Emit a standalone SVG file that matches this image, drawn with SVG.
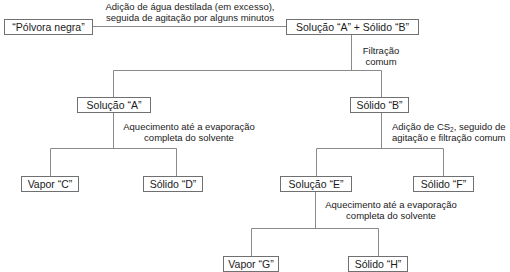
<svg xmlns="http://www.w3.org/2000/svg" width="510" height="272" viewBox="0 0 510 272">
<style>
.box{fill:#fff;stroke:#707070;stroke-width:1}
.bt{font-family:"Liberation Sans",Arial,sans-serif;font-size:10.5px;fill:#1a1a1a;text-anchor:middle}
.lt{font-family:"Liberation Sans",Arial,sans-serif;font-size:9.5px;fill:#1a1a1a;text-anchor:middle}
.ln{fill:none;stroke:#8a8a8a;stroke-width:1}
</style>
<rect width="510" height="272" fill="#fff"/>
<g id="connectors">
<path class="ln" d="M93,26.5H286"/>
<path class="ln" d="M351.5,34V70.5M113.5,70.5H381.5M113.5,70.5V97M381.5,70.5V97"/>
<path class="ln" d="M113.5,112V148.5M50.5,148.5H176.5M50.5,148.5V176M176.5,148.5V176"/>
<path class="ln" d="M381.5,112V148.5M316.5,148.5H443.5M316.5,148.5V176M443.5,148.5V176"/>
<path class="ln" d="M315.5,191V228.5M251.5,228.5H378.5M251.5,228.5V256M378.5,228.5V256"/>
</g>
<g id="labels">
<text class="lt" x="190" y="10">Adição de água destilada (em excesso),</text>
<text class="lt" x="190" y="20.5">seguida de agitação por alguns minutos</text>
<text class="lt" x="381" y="54">Filtração</text>
<text class="lt" x="381" y="64.5">comum</text>
<text class="lt" x="189" y="130">Aquecimento até a evaporação</text>
<text class="lt" x="189" y="140.5">completa do solvente</text>
<text class="lt" x="392" y="130" style="text-anchor:start">Adição de CS<tspan font-size="6.5" dy="2">2</tspan><tspan dy="-2">, seguido de</tspan></text>
<text class="lt" x="392" y="140.5" style="text-anchor:start">agitação e filtração comum</text>
<text class="lt" x="391" y="208">Aquecimento até a evaporação</text>
<text class="lt" x="391" y="218.5">completa do solvente</text>
</g>
<g id="polvora"><rect class="box" x="4.5" y="19.5" width="88" height="15"/><text class="bt" x="48.5" y="30.8">“Pólvora negra”</text></g>
<g id="solAsolB"><rect class="box" x="286.5" y="19.5" width="132" height="15"/><text class="bt" x="352.5" y="30.8">Solução “A” + Sólido “B”</text></g>
<g id="solucaoA"><rect class="box" x="77.5" y="97.5" width="73" height="15"/><text class="bt" x="114" y="108.8">Solução “A”</text></g>
<g id="solidoB"><rect class="box" x="350.5" y="97.5" width="58" height="15"/><text class="bt" x="379.5" y="108.8">Sólido “B”</text></g>
<g id="vaporC"><rect class="box" x="21.5" y="176.5" width="57" height="15"/><text class="bt" x="50" y="187.8">Vapor “C”</text></g>
<g id="solidoD"><rect class="box" x="143.5" y="176.5" width="59" height="15"/><text class="bt" x="173" y="187.8">Sólido “D”</text></g>
<g id="solucaoE"><rect class="box" x="280.5" y="176.5" width="71" height="15"/><text class="bt" x="316" y="187.8">Solução “E”</text></g>
<g id="solidoF"><rect class="box" x="413.5" y="176.5" width="60" height="15"/><text class="bt" x="443.5" y="187.8">Sólido “F”</text></g>
<g id="vaporG"><rect class="box" x="223.5" y="256.5" width="55" height="15"/><text class="bt" x="251" y="267.8">Vapor “G”</text></g>
<g id="solidoH"><rect class="box" x="348.5" y="256.5" width="59" height="15"/><text class="bt" x="378" y="267.8">Sólido “H”</text></g>
</svg>
